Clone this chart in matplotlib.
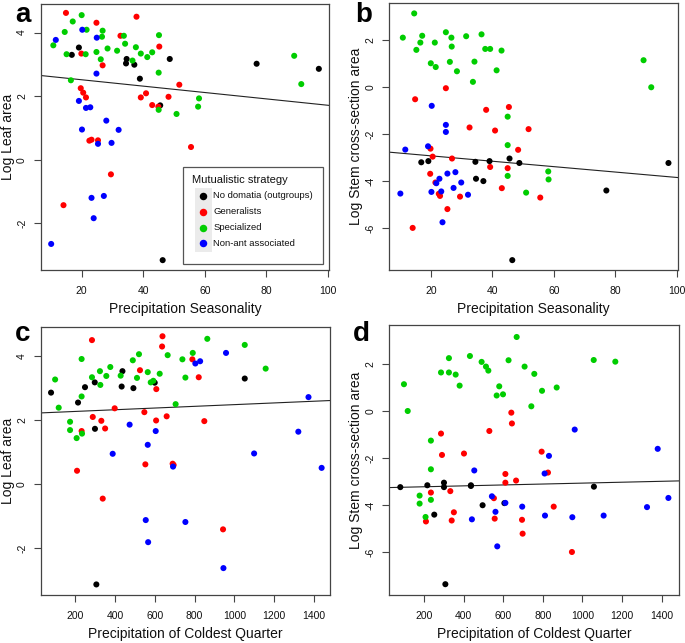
import matplotlib
matplotlib.use("Agg")
import matplotlib.pyplot as plt
from matplotlib.patches import Rectangle

plt.rcParams['font.family'] = ['Liberation Sans', 'DejaVu Sans']

COLORS = {"black": "#000000", "red": "#FF0000", "green": "#00CD00", "blue": "#0000FF"}
GROUPS = ["black", "red", "green", "blue"]
LEGEND_LABELS = ["No domatia (outgroups)", "Generalists", "Specialized", "Non-ant associated"]

# ---- Panel a: Precipitation Seasonality vs Log Leaf area ----
a_black_x = [16.8, 19.1, 34.6, 34.4, 37.1, 38.9, 48.6, 45.5, 76.8, 97.0, 46.3]
a_black_y = [3.30, 3.53, 3.17, 3.03, 2.99, 2.55, 3.17, 1.71, 3.02, 2.86, -3.16]
a_red_x = [14.9, 24.8, 37.8, 32.6, 19.9, 26.8, 45.2, 19.7, 20.5, 21.4, 40.9, 39.2, 51.7, 48.2,
           42.9, 44.9, 22.5, 23.2, 25.3, 55.5, 29.5, 14.1]
a_red_y = [4.62, 4.31, 4.50, 3.90, 3.34, 2.97, 3.56, 2.25, 2.11, 1.96, 2.09, 1.96, 2.36, 1.98,
           1.72, 1.67, 0.60, 0.63, 0.61, 0.40, -0.46, -1.43]
a_green_x = [10.8, 14.5, 17.1, 20.0, 21.6, 15.1, 21.3, 16.5, 24.8, 26.6, 26.8, 26.2, 28.4, 31.5,
             33.7, 34.1, 36.5, 37.6, 39.2, 41.3, 42.9, 45.1, 45.0, 45.0, 50.8, 58.1, 57.8, 89.0, 91.3]
a_green_y = [3.60, 4.02, 4.35, 4.55, 4.09, 3.32, 3.32, 2.50, 3.39, 3.87, 4.06, 3.16, 3.50, 3.43,
             3.90, 3.65, 3.12, 3.54, 3.34, 3.23, 3.38, 3.92, 2.74, 1.57, 1.44, 1.93, 1.67, 3.27, 2.38]
a_blue_x = [11.6, 20.2, 24.9, 24.8, 19.1, 21.4, 22.8, 28.0, 20.1, 32.0, 25.3, 29.7, 23.2, 27.2, 23.9, 10.1]
a_blue_y = [3.77, 4.09, 3.84, 2.71, 1.85, 1.63, 1.65, 1.23, 0.95, 0.94, 0.50, 0.53, -1.20, -1.14, -1.84, -2.65]

# ---- Panel b: Precipitation Seasonality vs Log Stem cross-section area ----
b_black_x = [16.9, 19.2, 34.5, 34.7, 37.1, 39.1, 45.6, 48.8, 77.1, 97.3, 46.5]
b_black_y = [-3.20, -3.15, -3.18, -3.90, -4.00, -3.15, -3.04, -3.23, -4.40, -3.23, -7.36]
b_red_x = [14.9, 24.9, 38.0, 45.4, 32.6, 40.9, 51.8, 19.9, 20.6, 48.4, 26.9, 39.3, 45.0, 19.8,
           21.5, 22.6, 23.0, 29.5, 43.1, 55.6, 25.4, 14.1]
b_red_y = [-0.52, -0.05, -0.97, -0.85, -1.72, -1.85, -1.79, -2.62, -2.96, -2.67, -3.04, -3.40, -3.45, -3.69,
           -4.06, -4.54, -4.63, -4.66, -4.30, -4.70, -5.19, -5.99]
b_green_x = [14.6, 10.9, 17.2, 16.6, 15.3, 24.9, 26.7, 21.3, 26.8, 31.5, 36.5, 37.7, 39.3, 43.0,
             20.0, 21.6, 26.2, 34.2, 28.5, 41.4, 33.7, 45.0, 45.0, 45.0, 58.2, 58.3, 51.0, 89.2, 91.7]
b_green_y = [3.13, 2.10, 2.18, 1.89, 1.58, 2.33, 2.10, 1.89, 1.72, 2.16, 2.24, 1.62, 1.62, 1.55,
             1.01, 0.85, 1.07, 1.08, 0.67, 0.71, 0.22, -1.26, -2.47, -3.78, -3.59, -3.93, -4.49, 1.14, -0.01]
b_blue_x = [11.7, 10.1, 19.1, 20.3, 24.9, 24.9, 22.8, 21.8, 20.2, 23.4, 25.4, 28.0, 29.9, 27.4, 32.1, 23.8]
b_blue_y = [-2.66, -4.53, -2.52, -0.80, -1.61, -1.91, -3.90, -4.09, -4.46, -4.44, -3.68, -3.62, -4.06, -4.29, -4.58, -5.75]

# ---- Panel c: Precipitation of Coldest Quarter vs Log Leaf area ----
c_black_x = [79.5, 215, 250, 299, 438, 434, 493, 600, 1052, 300, 307]
c_black_y = [2.86, 2.55, 3.03, 3.18, 3.53, 3.05, 3.00, 3.17, 3.30, 1.73, -3.13]
c_red_x = [285, 639, 637, 789, 526, 821, 608, 399, 548, 289, 332, 607, 660, 849, 233, 351,
           553, 690, 695, 210, 339, 943]
c_red_y = [4.50, 4.62, 4.30, 3.90, 3.56, 3.34, 2.97, 2.37, 2.25, 2.10, 1.98, 1.99, 2.12, 1.97, 1.66, 1.74,
           0.62, 0.64, 0.60, 0.42, -0.45, -1.41]
c_green_x = [100, 118, 233, 233, 285, 325, 327, 357, 377, 429, 490, 521, 511, 565, 580, 593, 625,
             665, 739, 754, 791, 864, 1052, 1157, 705, 175, 175, 208, 235]
c_green_y = [3.27, 2.39, 3.91, 2.74, 3.34, 3.53, 3.10, 3.38, 3.66, 3.39, 3.87, 4.06, 3.32, 3.50, 3.18, 3.23, 3.45,
             4.03, 3.90, 3.33, 4.10, 4.54, 4.35, 3.61, 2.50, 1.95, 1.69, 1.44, 1.58]
c_blue_x = [958, 804, 828, 1372, 1321, 474, 605, 565, 389, 1099, 692, 1438, 555, 754, 567, 945]
c_blue_y = [4.10, 3.77, 3.84, 2.72, 1.64, 1.86, 1.66, 1.23, 0.95, 0.96, 0.55, 0.51, -1.12, -1.18, -1.81, -2.62]

# ---- Panel d: Precipitation of Coldest Quarter vs Log Stem cross-section area ----
d_black_x = [80.5, 217, 301, 301, 437, 437, 252, 496, 606, 1058, 308]
d_black_y = [-3.23, -3.15, -3.04, -3.23, -3.15, -3.18, -4.40, -4.00, -3.91, -3.21, -7.36]
d_red_x = [286, 291, 402, 530, 641, 644, 794, 826, 611, 611, 665, 235, 333, 351, 340, 210,
           553, 557, 695, 698, 855, 947]
d_red_y = [-0.95, -1.86, -1.80, -0.84, -0.06, -0.52, -1.72, -2.61, -2.67, -3.04, -2.95, -3.46, -3.40, -4.30,
           -4.65, -4.69, -3.70, -4.57, -4.62, -5.21, -4.06, -5.99]
d_green_x = [99, 118, 326, 286, 326, 360, 380, 432, 491, 513, 525, 627, 668, 708, 580, 567, 599,
             757, 796, 870, 742, 1057, 1166, 235, 235, 235, 178, 178, 208]
d_green_y = [1.15, 0.01, 2.26, 1.65, 1.65, 1.56, 1.09, 2.35, 2.10, 1.90, 1.73, 2.17, 3.16, 1.90, 1.06, 0.67, 0.72,
             1.59, 0.87, 1.01, 0.21, 2.18, 2.11, -1.25, -2.47, -3.77, -3.59, -3.93, -4.50]
d_blue_x = [961, 1380, 831, 809, 454, 543, 611, 561, 442, 696, 811, 949, 1107, 1326, 1434, 570]
d_blue_y = [-0.78, -1.60, -1.90, -2.65, -2.52, -3.62, -3.90, -4.28, -4.60, -4.06, -4.44, -4.51, -4.44, -4.08, -3.69, -5.75]

# regression lines (intercept, slope)
fit_a = (2.717, -0.01004)
fit_b = (-2.695, -0.0115)
fit_c = (2.219, 0.000266)
fit_d = (-3.253, 0.000194)

W, H = 685, 643
fig = plt.figure(figsize=(W / 100, H / 100), dpi=100)


def px_axes(l, t, r, b):
    return fig.add_axes([l / W, 1 - b / H, (r - l) / W, (b - t) / H])


panels = [
    dict(box=(40.7, 4, 329, 270), xlim=(6.7, 100.3), ylim=(-3.47, 4.9),
         xt=[20, 40, 60, 80, 100], yt=[-2, 0, 2, 4],
         xl="Precipitation Seasonality", yl="Log Leaf area", letter="a", lpos=(15, 22),
         data=[(a_black_x, a_black_y), (a_red_x, a_red_y), (a_green_x, a_green_y), (a_blue_x, a_blue_y)],
         fit=fit_a),
    dict(box=(389.3, 3.3, 678.3, 270), xlim=(6.5, 100.5), ylim=(-7.78, 3.56),
         xt=[20, 40, 60, 80, 100], yt=[-6, -4, -2, 0, 2],
         xl="Precipitation Seasonality", yl="Log Stem cross-section area", letter="b", lpos=(355, 22),
         data=[(b_black_x, b_black_y), (b_red_x, b_red_y), (b_green_x, b_green_y), (b_blue_x, b_blue_y)],
         fit=fit_b),
    dict(box=(40.7, 327.3, 330, 595), xlim=(27.6, 1480), ylim=(-3.46, 4.9),
         xt=[200, 400, 600, 800, 1000, 1200, 1400], yt=[-2, 0, 2, 4],
         xl="Precipitation of Coldest Quarter", yl="Log Leaf area", letter="c", lpos=(15, 341),
         data=[(c_black_x, c_black_y), (c_red_x, c_red_y), (c_green_x, c_green_y), (c_blue_x, c_blue_y)],
         fit=fit_c),
    dict(box=(389.3, 325, 679.3, 595), xlim=(25, 1489), ylim=(-7.82, 3.67),
         xt=[200, 400, 600, 800, 1000, 1200, 1400], yt=[-6, -4, -2, 0, 2],
         xl="Precipitation of Coldest Quarter", yl="Log Stem cross-section area", letter="d", lpos=(353, 341),
         data=[(d_black_x, d_black_y), (d_red_x, d_red_y), (d_green_x, d_green_y), (d_blue_x, d_blue_y)],
         fit=fit_d),
]

spine_col = "#444444"
for p in panels:
    l, t, r, b = p["box"]
    ax = px_axes(l, t, r, b)
    for g, (xs, ys) in zip(GROUPS, p["data"]):
        ax.scatter(xs, ys, s=19, color=COLORS[g], edgecolors="none", zorder=3)
    ic, sl = p["fit"]
    ax.axline((0, ic), slope=sl, color="#222222", lw=0.8, zorder=2)
    ax.set_xlim(*p["xlim"])
    ax.set_ylim(*p["ylim"])
    ax.set_xticks(p["xt"])
    ax.set_yticks(p["yt"])
    ax.set_yticklabels([str(v) for v in p["yt"]], rotation=90, va="center")
    ax.tick_params(axis="both", direction="out", length=4.8, width=0.8, color=spine_col,
                   labelsize=7.5, labelcolor="#111111")
    ax.tick_params(axis="x", pad=6.5)
    ax.tick_params(axis="y", pad=5)
    for s in ax.spines.values():
        s.set_color(spine_col)
        s.set_linewidth(0.9)
    ax.set_xlabel(p["xl"], fontsize=10, color="#111111")
    ax.set_ylabel(p["yl"], fontsize=10, color="#111111")
    ax.xaxis.set_label_coords(0.5, -0.145)
    ax.xaxis.label.set_va("center")
    ax.yaxis.set_label_coords(-0.114, 0.5)
    ax.yaxis.label.set_va("center")
    lx, ly = p["lpos"]
    fig.text(lx / W, 1 - ly / H, p["letter"], fontsize=20, fontweight="bold",
             ha="left", va="baseline")

# legend drawn manually in figure pixel coordinates
def fx(x):
    return x / W


def fy(y):
    return 1 - y / H


fig.patches.append(Rectangle((fx(183.3), fy(264)), (323.3 - 183.3) / W, (264 - 166.7) / H,
                             transform=fig.transFigure, facecolor="white", edgecolor="#555555",
                             lw=0.9, zorder=5))
fig.patches.append(Rectangle((fx(195), fy(252)), (211.7 - 195) / W, (252 - 188) / H,
                             transform=fig.transFigure, facecolor="#EBEBEB", edgecolor="none",
                             zorder=6))
fig.text(fx(192.3), fy(182.7), "Mutualistic strategy", fontsize=8, ha="left", va="baseline",
         color="#111111", zorder=7)
ys_leg = [195.7, 212, 228, 243.3]
for g, lab, yy in zip(GROUPS, LEGEND_LABELS, ys_leg):
    fig.lines.append(plt.Line2D([fx(203.3)], [fy(yy)], marker="o", markersize=5.4, color=COLORS[g],
                                markeredgewidth=0, linestyle="none", transform=fig.transFigure, zorder=7))
    fig.text(fx(213.3), fy(yy), lab, fontsize=6.8, ha="left", va="center", color="#111111", zorder=7)

fig.savefig("out.png", dpi=100)
